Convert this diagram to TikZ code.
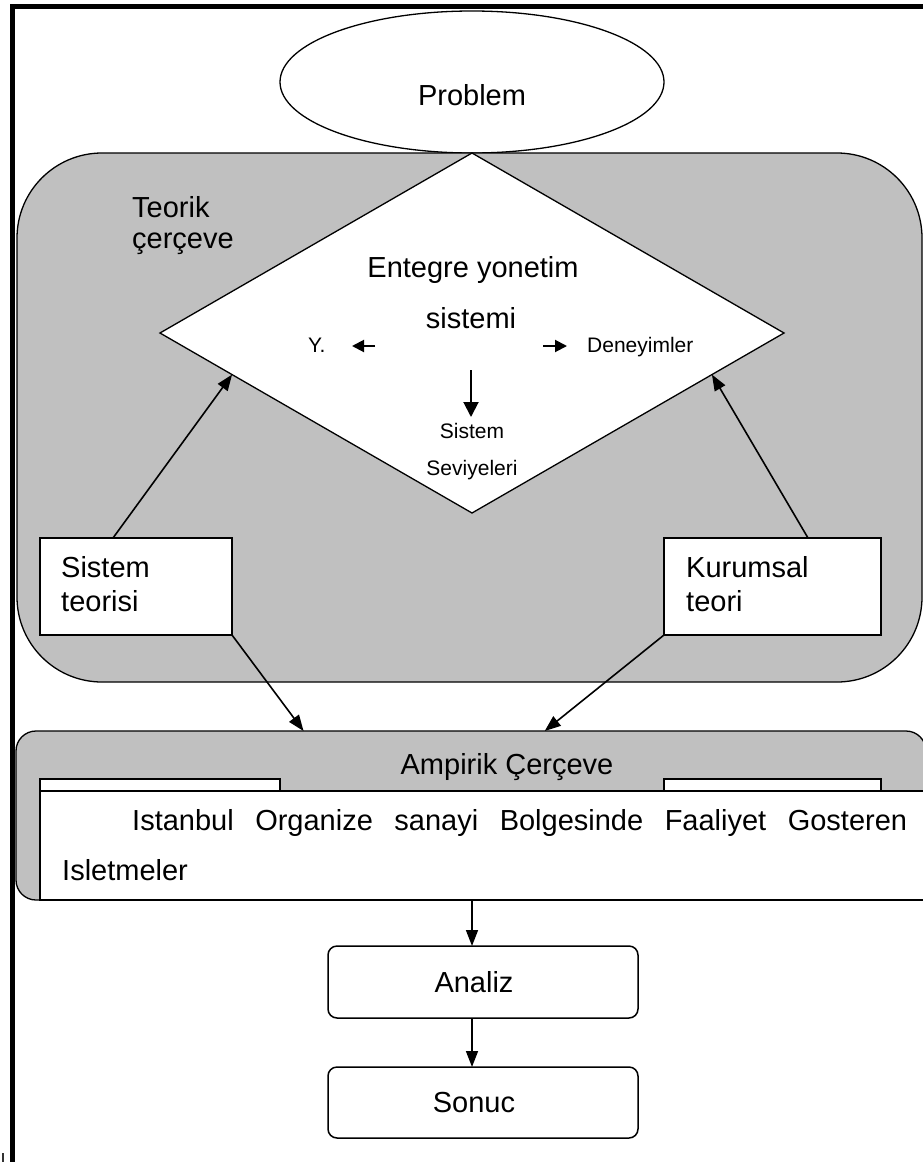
\documentclass[tikz,border=0pt]{standalone}
\usepackage{fontspec}
\setmainfont{Liberation Sans}
\usetikzlibrary{shapes.geometric,calc,arrows.meta}
\definecolor{panelgray}{RGB}{192,192,192}

\begin{document}
\begin{tikzpicture}[x=1pt,y=-1pt,
  big/.style={font=\fontsize{29}{33}\selectfont, inner sep=0pt},
  small/.style={font=\fontsize{21}{25}\selectfont, inner sep=0pt},
  panel/.style={draw=black, line width=1.3pt, fill=panelgray, inner sep=0pt, outer sep=0pt},
  whitebox/.style={draw=black, line width=1.5pt, fill=white, inner sep=0pt, outer sep=0pt},
  roundbox/.style={whitebox, rounded corners=9pt},
  arr/.style={line width=1.6pt, -{Triangle[length=16pt,width=12pt]}},
  sarr/.style={line width=2pt, -{Triangle[length=12pt,width=12pt]}},
  darr/.style={line width=2pt, -{Triangle[length=15pt,width=15pt]}},
]
\useasboundingbox (0,0) rectangle (923,1162);
\fill[white] (0,0) rectangle (923,1162);

% page frame
\draw[line width=5pt] (12,1162) -- (12,6.5) -- (923,6.5);
\draw[line width=2pt, black!80] (3,1153) -- (3,1162);

% problem ellipse
\node[shape=ellipse, draw, line width=1.3pt, fill=white, minimum width=384pt,
      minimum height=142pt, inner sep=0pt, outer sep=0pt] (prob) at (472,82) {};
\node[big, anchor=base] (probT) at (472,105) {Problem};

% theoretical frame panel
\node[panel, rounded corners=85pt, minimum width=905pt, minimum height=529pt] (teo) at (469.5,417.5) {};
\node[big, anchor=base west] (teoT1) at (132,217) {Teorik};
\node[big, anchor=base west] (teoT2) at (132,248) {çerçeve};

% central diamond
\node[shape=diamond, draw, line width=1.3pt, fill=white, minimum width=624pt,
      minimum height=360pt, inner sep=0pt, outer sep=0pt] (dia) at (472,333) {};
\node[big, anchor=base] (diaT1) at (473,277) {Entegre yonetim};
\node[big, anchor=base] (diaT2) at (471,328) {sistemi};
\node[small, anchor=base west] (yT) at (308,352) {Y.};
\node[small, anchor=base west] (denT) at (587,352) {Deneyimler};
\node[small, anchor=base] (sisT1) at (472,438) {Sistem};
\node[small, anchor=base] (sisT2) at (472,475) {Seviyeleri};

\coordinate (yA) at (375,346);
\coordinate (yB) at (352,346);
\coordinate (dA) at (543,346);
\coordinate (dB) at (567,346);
\coordinate (sA) at (471,370);
\coordinate (sB) at (471,417);
\draw[sarr] (yA) -- (yB);
\draw[sarr] (dA) -- (dB);
\draw[darr] (sA) -- (sB);

% theory boxes
\node[whitebox, minimum width=192pt, minimum height=97pt] (sys) at (136,586.5) {};
\node[big, anchor=base west] (sysT1) at (61,577) {Sistem};
\node[big, anchor=base west] (sysT2) at (61,611) {teorisi};
\node[whitebox, minimum width=217pt, minimum height=97pt] (kur) at (772.5,586.5) {};
\node[big, anchor=base west] (kurT1) at (686,577) {Kurumsal};
\node[big, anchor=base west] (kurT2) at (686,611) {teori};

\draw[arr] ([xshift=73pt]sys.north west) -- ($(dia.west)!0.231!(dia.south)$);
\draw[arr] ([xshift=-73pt]kur.north east) -- ($(dia.east)!0.231!(dia.south)$);

% empirical frame panel
\node[panel, rounded corners=20pt, minimum width=910pt, minimum height=169pt] (amp) at (471,815.5) {};
\node[big, anchor=base] (ampT) at (507,774) {Ampirik Çerçeve};
\node[whitebox, minimum width=240pt, minimum height=60pt] (ampL) at (160,809) {};
\node[whitebox, minimum width=217pt, minimum height=60pt] (ampR) at (772.5,809) {};
\node[whitebox, minimum width=890pt, minimum height=109pt] (org) at (485,845.5) {};
\node[big, anchor=base west] (orgT1) at (132,830)
  {\hbox to 775pt{Istanbul\hfill Organize\hfill sanayi\hfill Bolgesinde\hfill Faaliyet\hfill Gosteren}};
\node[big, anchor=base west] (orgT2) at (62,880) {Isletmeler};

\draw[arr] (sys.south east) -- ($(amp.north west)!0.316!(amp.north east)$);
\draw[arr] (kur.south west) -- ($(amp.north west)!0.581!(amp.north east)$);

% analysis and result
\coordinate (axis) at (472,0);
\node[roundbox, minimum width=310pt, minimum height=72pt] (ana) at (483,982) {};
\node[big, anchor=base] (anaT) at (474,992) {Analiz};
\node[roundbox, minimum width=310pt, minimum height=71pt] (son) at (483,1102.5) {};
\node[big, anchor=base] (sonT) at (474,1112) {Sonuc};

\draw[arr] (org.south -| axis) -- (ana.north -| axis);
\draw[arr] (ana.south -| axis) -- (son.north -| axis);
\end{tikzpicture}
\end{document}
